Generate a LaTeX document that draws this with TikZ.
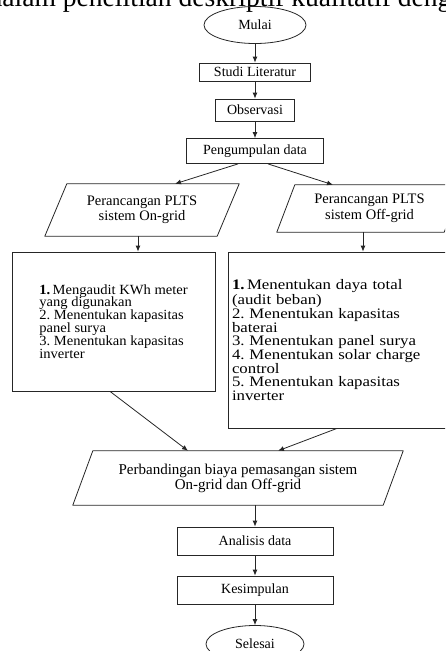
\documentclass[tikz,border=0pt]{standalone}
\usepackage{fontspec}
\setmainfont{Liberation Serif}
\newfontfamily\isikiri[FakeStretch=1.04]{Liberation Serif}
\newfontfamily\isikanan[FakeStretch=1.16]{Liberation Serif}
\usetikzlibrary{shapes.geometric,arrows.meta}
\frenchspacing

\begin{document}
\begin{tikzpicture}[x=1pt,y=1pt,font=\fontsize{14}{12.8}\selectfont]
                        \tikzset{Terminal/.style={%
                                shape=ellipse,%
                                draw=black!85,%
                                line width=0.8pt,%
                                minimum width=102pt,%
                                minimum height=37pt,%
                                inner sep=0pt,%
                            }}
                        \tikzset{Proses/.style={%
                                shape=rectangle,%
                                draw=black!85,%
                                line width=0.8pt,%
                                inner sep=0pt,%
                            }}
                        \tikzset{Data/.style={%
                                shape=rectangle,%
                                inner sep=0pt,%
                                align=center,%
                                font=\fontsize{14.5}{15.5}\selectfont,%
                            }}
                        \tikzset{Garis/.style={%
                                draw=black!85,%
                                line width=0.8pt,%
                                line join=round,%
                            }}
                        \tikzset{Panah/.style={%
                                -{Latex[length=6pt,width=5pt]},%
                                draw=black!85,%
                                line width=0.8pt,%
                            }}

                            \path[use as bounding box,clip] (0,0) rectangle (445,-651);
                            \node[anchor=base west,font=\fontsize{27.6}{30}\selectfont] (judul) at (-15,-6.5) {dalam penelitian deskriptif kualitatif dengan};

                            \node[Terminal] (mulai) at (255,-25) {Mulai};
                            \node[Proses, minimum width=111pt, minimum height=18pt, node distance=47pt, below of=mulai] (studi) {Studi Literatur};
                            \node[Proses, minimum width=79pt, minimum height=22pt, node distance=38pt, below of=studi] (obs) {Observasi};
                            \node[Proses, minimum width=137pt, minimum height=25pt, node distance=41pt, below of=obs] (kumpul) {Pengumpulan data};
                            \node[Data, minimum width=172pt, minimum height=52pt] (ongrid) at (142,-210) {Perancangan PLTS\\sistem On-grid};
                            \node[Data, minimum width=167pt, minimum height=47pt] (offgrid) at (369.5,-208.5) {Perancangan PLTS\\sistem Off-grid};
                            \node[Proses, minimum width=203pt, minimum height=139pt, align=left, font=\isikiri\fontsize{14}{12.9}\selectfont] (boxon) at (113.5,-321.5) {\textbf{1.}\,Mengaudit KWh meter\\yang digunakan\\2. Menentukan kapasitas\\panel surya\\3. Menentukan kapasitas\\inverter};
                            \node[Proses, minimum width=240pt, minimum height=176pt, text width=232pt, inner xsep=4pt, align=left, font=\isikanan\fontsize{14.5}{13.1}\selectfont] (boxoff) at (348,-340) {\textbf{1.}\,Menentukan daya total\\(audit beban)\\2. Menentukan kapasitas\\baterai\\3. Menentukan panel surya\\4. Menentukan solar charge\\control\\5. Menentukan kapasitas\\inverter};
                            \node[Data, minimum width=310pt, minimum height=54pt, font=\fontsize{15}{15}\selectfont] (banding) at (238,-478) {Perbandingan biaya pemasangan sistem\\On-grid dan Off-grid};
                            \node[Proses, minimum width=156pt, minimum height=28pt] (analisis) at (255,-541) {Analisis data};
                            \node[Proses, minimum width=156pt, minimum height=28pt, node distance=49pt, below of=analisis] (simpul) {Kesimpulan};
                            \node[Terminal, minimum width=98pt, node distance=54pt, below of=simpul] (selesai) {Selesai};

                            % jajaran genjang
                            \draw[Garis] ([xshift=11pt]ongrid.north west) -- ([xshift=11pt]ongrid.north east) -- ([xshift=-11pt]ongrid.south east) -- ([xshift=-11pt]ongrid.south west) -- cycle;
                            \draw[Garis] ([xshift=9pt]offgrid.north west) -- ([xshift=9pt]offgrid.north east) -- ([xshift=-9pt]offgrid.south east) -- ([xshift=-9pt]offgrid.south west) -- cycle;
                            \draw[Garis] ([xshift=10pt]banding.north west) -- ([xshift=10pt]banding.north east) -- ([xshift=-10pt]banding.south east) -- ([xshift=-10pt]banding.south west) -- cycle;

                            \path (mulai) edge[Panah] (studi);
                            \path (studi) edge[Panah] (obs);
                            \path (obs) edge[Panah] (kumpul);
                            \path ([xshift=-17pt]kumpul.south) edge[Panah] ([xshift=33pt]ongrid.north);
                            \path ([xshift=13pt]kumpul.south) edge[Panah] ([xshift=-36.5pt]offgrid.north);
                            \path ([xshift=-4pt]ongrid.south) edge[Panah] ([xshift=-4pt]ongrid.south |- boxon.north);
                            \path ([xshift=-6.5pt]offgrid.south) edge[Panah] ([xshift=-6.5pt]offgrid.south |- boxoff.north);
                            \path ([xshift=-3.5pt]boxon.south) edge[Panah] ([xshift=-50pt]banding.north);
                            \path ([xshift=-11pt]boxoff.south) edge[Panah] ([xshift=40pt]banding.north);
                            \path (banding.south -| analisis.north) edge[Panah] (analisis);
                            \path (analisis) edge[Panah] (simpul);
                            \path (simpul) edge[Panah] (selesai);
\end{tikzpicture}
\end{document}
